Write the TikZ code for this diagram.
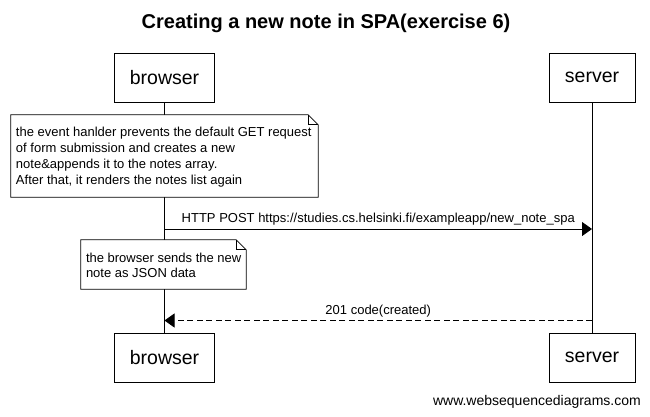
\documentclass[tikz,border=0pt]{standalone}
\usepackage{fontspec}
\setmainfont{Liberation Sans}
\usetikzlibrary{arrows.meta}
\tikzset{
  actor/.style={draw, line width=0.8pt, fill=white, minimum width=#1, minimum height=49pt, inner sep=0pt, font=\fontsize{19.5}{23}\selectfont},
  notearea/.style={draw=none, inner sep=0pt},
  notetext/.style={inner xsep=5pt, inner ysep=0pt, align=left, anchor=west, font=\fontsize{13}{16}\selectfont},
  lifeline/.style={line width=0.8pt},
  msg/.style={line width=0.8pt, -{Triangle[length=10pt,width=14pt]}},
  reply/.style={msg, dash pattern=on 6pt off 3.5pt},
  msglabel/.style={font=\fontsize{13}{15}\selectfont, inner sep=0pt},
  outline/.style={draw, line width=0.8pt, fill=white}
}
\newcommand{\notebox}[1]{%
  \path[outline] (#1.north west) -- ([xshift=-10pt]#1.north east) -- ([yshift=-10pt]#1.north east) -- (#1.south east) -- (#1.south west) -- cycle;
  \draw[line width=0.8pt] ([xshift=-10pt]#1.north east) -- ([xshift=-10pt,yshift=-10pt]#1.north east) -- ([yshift=-10pt]#1.north east);
}
\begin{document}
\begin{tikzpicture}[x=1pt,y=-1pt]
\useasboundingbox (0,0) rectangle (650,416);
\fill[white] (0,0) rectangle (650,416);

\node[font=\fontsize{20}{24}\selectfont\bfseries] (title) at (326,23) {Creating a new note in SPA(exercise 6)};

% actors
\node[actor=100pt] (btop) at (164.5,77.5) {browser};
\node[actor=86pt] (stop) at (592,77.5) {server};
\node[actor=100pt] (bbot) at (164.5,357.5) {browser};
\node[actor=86pt] (sbot) at (592,357.5) {server};

% lifelines
\draw[lifeline] (btop.south) -- (bbot.north);
\draw[lifeline] (stop.south) -- (sbot.north);

% note 1
\node[notearea, minimum width=307pt, minimum height=82pt] (note1) at (164.5,156) {};
\notebox{note1}
\node[notetext] (note1text) at ([yshift=-1.5pt]note1.west) {the event hanlder prevents the default GET request\\of form submission and creates a new\\note\&appends it to the notes array.\\After that, it renders the notes list again};

% message POST
\coordinate (bpost) at (164.5,229);
\coordinate (spost) at (592,229);
\draw[msg] (bpost) -- (spost) node[msglabel, midway, yshift=9.5pt] (postlabel) {HTTP POST https://studies.cs.helsinki.fi/exampleapp/new\_note\_spa};

% note 2
\node[notearea, minimum width=165pt, minimum height=49pt] (note2) at (163.5,264.5) {};
\notebox{note2}
\node[notetext, font=\fontsize{13}{15.5}\selectfont] (note2text) at ([yshift=-1pt]note2.west) {the browser sends the new\\note as JSON data};

% reply
\coordinate (sreply) at (592,320.5);
\coordinate (breply) at (164.5,320.5);
\draw[reply] (sreply) -- (breply) node[msglabel, midway, yshift=9pt] (replylabel) {201 code(created)};

% footer
\node[font=\fontsize{14}{16}\selectfont, anchor=east, inner sep=0pt] (footer) at (641,402) {www.websequencediagrams.com};
\end{tikzpicture}
\end{document}
